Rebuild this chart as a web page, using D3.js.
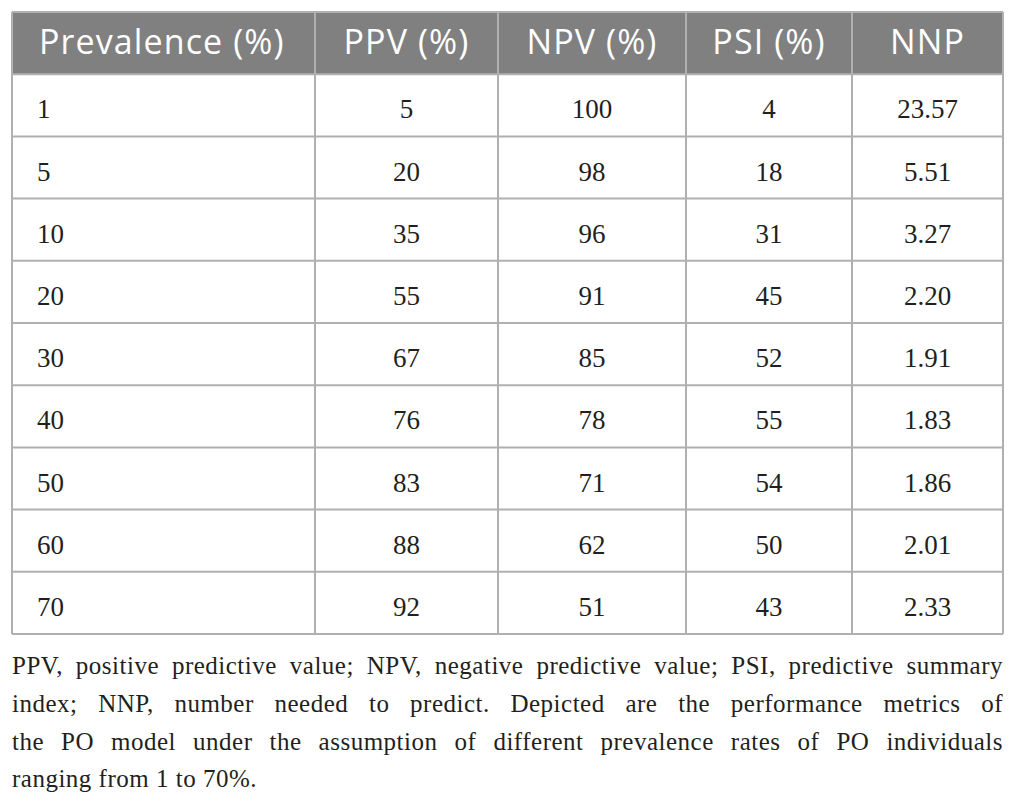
<!DOCTYPE html>
<html>
<head>
<meta charset="utf-8">
<script src="https://cdn.jsdelivr.net/npm/d3@7"></script>
<style>
  html, body { margin: 0; padding: 0; background: #fff; }
  #caption { position: absolute; left: 12px; top: 647px; width: 991px;
    font-family: "Liberation Serif", serif; font-size: 25px; letter-spacing: 0.5px; color: #231f20; }
  #caption div { height: 37.8px; line-height: 37.8px; white-space: nowrap; }
  #caption div.just { text-align: justify; text-align-last: justify; white-space: normal; }
</style>
</head>
<body>
<svg id="table" width="1018" height="650" style="position:absolute;left:0;top:0"></svg>
<div id="caption"></div>
<script>
// Table data
const headers = ["Prevalence (%)", "PPV (%)", "NPV (%)", "PSI (%)", "NNP"];
const prevalence = ["1", "5", "10", "20", "30", "40", "50", "60", "70"];
const ppv = ["5", "20", "35", "55", "67", "76", "83", "88", "92"];
const npv = ["100", "98", "96", "91", "85", "78", "71", "62", "51"];
const psi = ["4", "18", "31", "45", "52", "55", "54", "50", "43"];
const nnp = ["23.57", "5.51", "3.27", "2.20", "1.91", "1.83", "1.86", "2.01", "2.33"];
const captionLines = [
    "PPV, positive predictive value; NPV, negative predictive value; PSI, predictive summary",
    "index; NNP, number needed to predict. Depicted are the performance metrics of",
    "the PO model under the assumption of different prevalence rates of PO individuals",
    "ranging from 1 to 70%."
];

// Layout: relative column widths
const colUnits = [303, 183, 188, 166, 151];
const columns = [prevalence, ppv, npv, psi, nnp];

const svg = d3.select("#table");
const tLeft = 12, tRight = 1003, tTop = 12, tBottom = 634;

// x scale over cumulative column units
const cum = [0];
colUnits.forEach(u => cum.push(cum[cum.length - 1] + u));
const x = d3.scaleLinear().domain([0, cum[cum.length - 1]]).range([tLeft, tRight]);

// y band for header + rows
const rowKeys = ["header"].concat(prevalence.map((d, i) => "r" + i));
const y = d3.scaleBand().domain(rowKeys).range([tTop, tBottom]);

// header background
svg.append("rect")
    .attr("x", x(0)).attr("y", y("header"))
    .attr("width", x(cum[cum.length - 1]) - x(0))
    .attr("height", y.bandwidth())
    .attr("fill", "#808080");

// header text
svg.selectAll("text.head")
    .data(headers)
    .join("text")
    .attr("class", "head")
    .attr("x", (d, i) => i === 0 ? x(0) + 27 : (x(cum[i]) + x(cum[i + 1])) / 2)
    .attr("y", y("header") + y.bandwidth() / 2 + 11)
    .attr("text-anchor", (d, i) => i === 0 ? "start" : "middle")
    .attr("font-family", "'Open Sans', sans-serif")
    .attr("font-size", 34)
    .attr("letter-spacing", 1.1)
    .attr("fill", "#fff")
    .text(d => d);

// body cells
const cells = [];
columns.forEach((col, c) => col.forEach((v, r) => cells.push({ c, r, v })));
svg.selectAll("text.cell")
    .data(cells)
    .join("text")
    .attr("class", "cell")
    .attr("x", d => d.c === 0 ? x(0) + 25 : (x(cum[d.c]) + x(cum[d.c + 1])) / 2)
    .attr("y", d => y("r" + d.r) + y.bandwidth() / 2 + 13)
    .attr("text-anchor", d => d.c === 0 ? "start" : "middle")
    .attr("font-family", "'Liberation Serif', serif")
    .attr("font-size", 27)
    .attr("fill", "#231f20")
    .text(d => d.v);

// grid lines
const lineColor = "#b0b0b0";
svg.selectAll("line.h")
    .data(rowKeys.slice(1).concat(["end"]))
    .join("line")
    .attr("class", "h")
    .attr("x1", tLeft).attr("x2", tRight)
    .attr("y1", d => d === "end" ? tBottom : y(d))
    .attr("y2", d => d === "end" ? tBottom : y(d))
    .attr("stroke", lineColor).attr("stroke-width", 2);
svg.selectAll("line.v")
    .data(cum)
    .join("line")
    .attr("class", "v")
    .attr("x1", d => x(d)).attr("x2", d => x(d))
    .attr("y1", tTop).attr("y2", tBottom)
    .attr("stroke", lineColor).attr("stroke-width", 2);
svg.append("line")
    .attr("x1", tLeft).attr("x2", tRight)
    .attr("y1", tTop).attr("y2", tTop)
    .attr("stroke", lineColor).attr("stroke-width", 2);

// caption
d3.select("#caption").selectAll("div")
    .data(captionLines)
    .join("div")
    .attr("class", (d, i) => i < captionLines.length - 1 ? "just" : null)
    .text(d => d);
</script>
</body>
</html>
